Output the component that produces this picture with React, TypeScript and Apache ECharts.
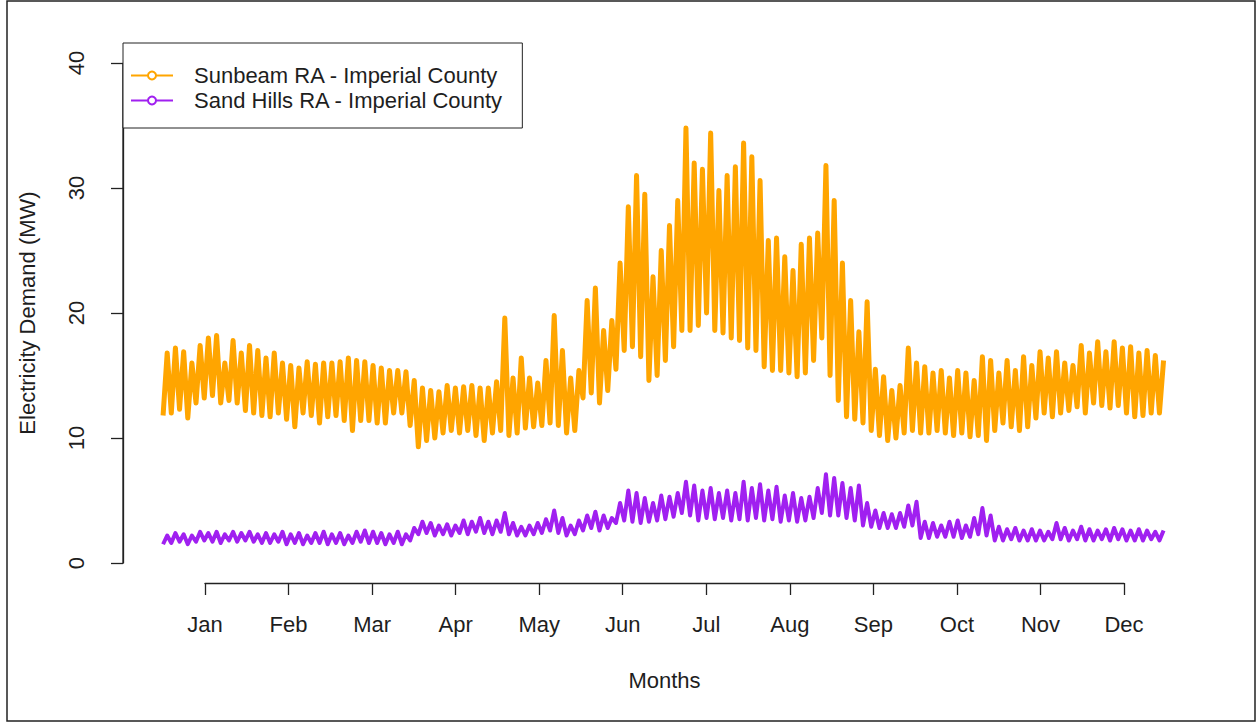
import React, { useEffect, useRef } from "react";
import * as echarts from "echarts";

const MONTHS = ["Jan", "Feb", "Mar", "Apr", "May", "Jun", "Jul", "Aug", "Sep", "Oct", "Nov", "Dec"];
const Y_TICKS = [0, 10, 20, 30, 40];
const SAMPLE_STEP_DAYS = 3;
const YEAR_DAYS = 365;

const sunbeamHigh = [
  16.8, 17.2, 16.9, 16.0, 17.4, 18.0, 18.2, 16.0, 17.8, 16.8,
  17.4, 17.0, 16.4, 16.8, 16.0, 15.8, 15.6, 16.1, 15.9, 16.0,
  16.0, 16.1, 16.4, 16.2, 16.1, 15.8, 15.6, 15.4, 15.4, 15.3,
  14.6, 14.0, 13.8, 13.7, 14.2, 14.0, 14.1, 14.2, 14.0, 14.0,
  14.5, 19.6, 14.8, 16.4, 14.8, 14.4, 16.2, 19.8, 17.0, 14.8,
  15.4, 21.0, 22.0, 18.6, 19.4, 24.0, 28.5, 31.0, 29.5, 22.9,
  25.0, 27.0, 29.0, 34.8, 32.0, 31.5, 34.4, 29.8, 31.0, 31.7,
  33.6, 32.5, 30.6, 25.8, 26.0, 24.5, 23.4, 25.5, 26.0, 26.4,
  31.8, 29.0, 24.0, 21.0, 18.5, 20.9, 15.5, 14.9, 13.8, 14.2,
  17.2, 16.0, 15.7, 15.2, 15.4, 14.8, 15.4, 15.2, 14.6, 16.5,
  16.2, 15.2, 16.2, 15.4, 16.5, 15.8, 16.9, 16.4, 16.9, 16.0,
  15.8, 17.4, 16.8, 17.7, 16.9, 17.7, 17.2, 17.3, 16.8, 17.0,
  16.6, 16.2,
];
const sunbeamLow = [
  11.8, 12.0, 12.3, 11.6, 12.8, 13.2, 13.4, 12.8, 13.0, 12.8,
  12.2, 12.0, 11.8, 11.7, 12.0, 11.5, 10.9, 12.0, 11.8, 11.2,
  11.7, 11.8, 11.4, 10.6, 11.4, 11.4, 11.2, 11.2, 12.0, 12.0,
  11.0, 9.3, 9.8, 10.0, 10.4, 10.6, 10.4, 10.6, 10.2, 9.8,
  10.4, 10.6, 10.2, 10.4, 10.8, 10.9, 11.0, 11.2, 11.0, 10.4,
  10.6, 13.2, 13.6, 12.8, 13.8, 15.5, 17.0, 17.3, 16.5, 14.6,
  15.0, 16.2, 17.3, 18.6, 18.6, 19.0, 20.0, 18.6, 18.4, 18.0,
  17.8, 17.2, 17.0, 15.7, 15.4, 15.4, 15.2, 14.9, 15.2, 16.2,
  18.0, 15.0, 13.0, 11.7, 11.5, 11.2, 10.6, 10.2, 9.8, 10.0,
  10.4, 10.6, 10.4, 10.4, 10.6, 10.4, 10.2, 10.4, 10.1, 10.2,
  9.8, 10.6, 11.2, 10.9, 10.6, 10.9, 11.6, 12.0, 11.7, 12.0,
  12.2, 12.5, 12.0, 12.8, 12.6, 12.4, 12.6, 12.0, 11.7, 11.8,
  12.0, 12.0,
];
const sandHillsHigh = [
  2.2, 2.4, 2.3, 2.2, 2.5, 2.4, 2.5, 2.3, 2.5, 2.4,
  2.5, 2.3, 2.4, 2.3, 2.5, 2.3, 2.4, 2.2, 2.4, 2.5,
  2.3, 2.4, 2.2, 2.5, 2.6, 2.5, 2.4, 2.3, 2.5, 2.3,
  2.8, 3.3, 3.2, 3.0, 3.1, 3.0, 3.4, 3.3, 3.6, 3.3,
  3.4, 4.0, 3.2, 2.9, 3.0, 3.2, 3.5, 4.2, 3.6, 3.0,
  3.4, 3.8, 4.1, 3.8, 3.6, 4.8, 5.8, 5.6, 5.2, 4.8,
  5.4, 5.3, 5.6, 6.5, 6.2, 5.8, 6.0, 5.6, 5.8, 5.6,
  6.5, 6.0, 6.3, 5.8, 6.1, 5.4, 5.6, 5.2, 5.3, 6.0,
  7.1, 6.8, 6.4, 6.0, 6.2, 4.8, 4.2, 4.0, 3.9, 4.0,
  4.6, 4.9, 3.3, 3.2, 3.0, 3.3, 3.4, 3.0, 3.6, 4.4,
  3.8, 2.9, 2.7, 2.8, 2.6, 2.7, 2.6, 2.5, 3.2, 2.8,
  2.6, 2.9, 2.7, 2.6, 2.7, 2.8, 2.7, 2.6, 2.7, 2.6,
  2.5, 2.6,
];
const sandHillsLow = [
  1.5, 1.6, 1.7, 1.5, 1.7, 1.8, 1.7, 1.6, 1.8, 1.7,
  1.8, 1.7, 1.6, 1.6, 1.7, 1.5, 1.6, 1.5, 1.6, 1.6,
  1.5, 1.6, 1.5, 1.6, 1.7, 1.6, 1.6, 1.5, 1.6, 1.5,
  1.8, 2.3, 2.4, 2.2, 2.3, 2.2, 2.4, 2.3, 2.5, 2.4,
  2.3, 2.5, 2.3, 2.2, 2.2, 2.3, 2.4, 2.6, 2.4, 2.2,
  2.3, 2.6, 2.8, 2.6, 2.8, 3.2, 3.4, 3.3, 3.2, 3.3,
  3.4, 3.5, 3.7, 4.0, 3.8, 3.4, 3.6, 3.5, 3.6, 3.4,
  3.5, 3.4, 3.6, 3.4, 3.5, 3.3, 3.4, 3.3, 3.4, 3.6,
  4.0, 3.8, 3.8, 3.6, 3.4, 3.0, 2.9, 2.8, 2.8, 2.8,
  2.9, 3.0, 2.0, 2.0, 2.1, 2.1, 2.1, 2.0, 2.1, 2.3,
  2.2, 1.8, 1.8, 1.9, 1.8, 1.8, 1.8, 1.8, 1.9, 1.9,
  1.8, 1.9, 1.8, 1.8, 1.9, 1.8, 1.9, 1.8, 1.8, 1.8,
  1.9, 1.8,
];

const SERIES_NAMES = ["Sunbeam RA - Imperial County", "Sand Hills RA - Imperial County"];
const COLORS = ["#FFA500", "#A020F0"];

// R pads the x range by 4% on each side; shift days so the y axis sits at x = 0.
const X_PAD = YEAR_DAYS * 0.04;

function zigzag(low: number[], high: number[]): number[][] {
  const pts: number[][] = [];
  for (let i = 0; i < low.length; i++) {
    pts.push([X_PAD + i * SAMPLE_STEP_DAYS, low[i]]);
    pts.push([X_PAD + i * SAMPLE_STEP_DAYS + SAMPLE_STEP_DAYS / 2, high[i]]);
  }
  return pts;
}

const FONT = "'Liberation Sans', Arial, sans-serif";
const TEXT = "#1e1e1e";
const AXIS = "#222";

export default function App() {
  const ref = useRef<HTMLDivElement>(null);
  useEffect(() => {
    if (!ref.current) return;
    const chart = echarts.init(ref.current, undefined, { renderer: "svg" });
    chart.setOption({
      animation: false,
      backgroundColor: "#ffffff",
      textStyle: { fontFamily: FONT },
      legend: {
        left: 123,
        top: 43,
        orient: "vertical",
        itemGap: 0,
        itemWidth: 42,
        itemHeight: 10,
        padding: [20, 19, 15, 7],
        backgroundColor: "#fff",
        borderColor: AXIS,
        borderWidth: 1,
        borderRadius: 0,
        selectedMode: false,
        z: 10,
        textStyle: {
          fontFamily: FONT,
          fontSize: 22,
          color: TEXT,
          lineHeight: 25,
          padding: [0, 0, 0, 16],
        },
        data: SERIES_NAMES,
      },
      grid: [
        { left: 123, top: 63, width: 1082, height: 500 },
        { left: 205, top: 500, width: 919, height: 83 },
      ],
      xAxis: [
        {
          gridIndex: 0,
          type: "value",
          min: 0,
          max: YEAR_DAYS + 2 * X_PAD,
          show: true,
          axisLine: { show: false },
          axisTick: { show: false },
          axisLabel: { show: false },
          splitLine: { show: false },
        },
        {
          gridIndex: 1,
          type: "value",
          min: 0,
          max: MONTHS.length - 1,
          interval: 1,
          name: "Months",
          nameLocation: "middle",
          nameGap: 86,
          nameTextStyle: { fontFamily: FONT, fontSize: 22, color: TEXT },
          axisLine: { show: true, onZero: false, lineStyle: { color: AXIS, width: 1.3 } },
          axisTick: { show: true, length: 12, lineStyle: { color: AXIS, width: 1.3 } },
          axisLabel: {
            margin: 30,
            fontFamily: FONT,
            fontSize: 22,
            color: TEXT,
            formatter: (v: number) => MONTHS[Math.round(v)] ?? "",
          },
          splitLine: { show: false },
        },
      ],
      yAxis: [
        {
          gridIndex: 0,
          type: "value",
          position: "left",
          min: Y_TICKS[0],
          max: Y_TICKS[Y_TICKS.length - 1],
          interval: 10,
          name: "Electricity Demand (MW)",
          nameLocation: "middle",
          nameGap: 85,
          nameRotate: 90,
          nameTextStyle: { fontFamily: FONT, fontSize: 22, color: TEXT },
          axisLine: { show: true, onZero: false, lineStyle: { color: AXIS, width: 1.3 } },
          axisTick: { show: true, length: 12, lineStyle: { color: AXIS, width: 1.3 } },
          axisLabel: {
            rotate: 90,
            margin: 36,
            fontFamily: FONT,
            fontSize: 22,
            color: TEXT,
          },
          splitLine: { show: false },
        },
        { gridIndex: 1, type: "value", show: false },
      ],
      series: [
        {
          name: SERIES_NAMES[0],
          type: "line",
          xAxisIndex: 0,
          yAxisIndex: 0,
          data: zigzag(sunbeamLow, sunbeamHigh),
          symbol: "emptyCircle",
          symbolSize: 8,
          showSymbol: false,
          lineStyle: { color: COLORS[0], width: 5, join: "round" },
          itemStyle: { color: COLORS[0] },
          silent: true,
        },
        {
          name: SERIES_NAMES[1],
          type: "line",
          xAxisIndex: 0,
          yAxisIndex: 0,
          data: zigzag(sandHillsLow, sandHillsHigh),
          symbol: "emptyCircle",
          symbolSize: 8,
          showSymbol: false,
          lineStyle: { color: COLORS[1], width: 4, join: "round" },
          itemStyle: { color: COLORS[1] },
          silent: true,
        },
      ],
    });
    // Frame of the picture and the y axis line along the 0–40 tick range.
    const bottom = chart.convertToPixel({ xAxisIndex: 0, yAxisIndex: 0 }, [0, Y_TICKS[0]]) as number[];
    const top = chart.convertToPixel(
      { xAxisIndex: 0, yAxisIndex: 0 },
      [0, Y_TICKS[Y_TICKS.length - 1]]
    ) as number[];
    chart.setOption({
      graphic: [
        {
          type: "rect",
          shape: { x: 7, y: 1, width: 1248, height: 720 },
          style: { fill: "none", stroke: AXIS, lineWidth: 1.5 },
          silent: true,
          z: 0,
        },
        {
          type: "line",
          shape: { x1: bottom[0], y1: bottom[1], x2: top[0], y2: top[1] },
          style: { stroke: AXIS, lineWidth: 1.3 },
          silent: true,
          z: 5,
        },
      ],
    });
    return () => chart.dispose();
  }, []);
  return (
    <div
      ref={ref}
      style={{ position: "fixed", left: 0, top: 0, width: 1257, height: 723, background: "#fff" }}
    />
  );
}
